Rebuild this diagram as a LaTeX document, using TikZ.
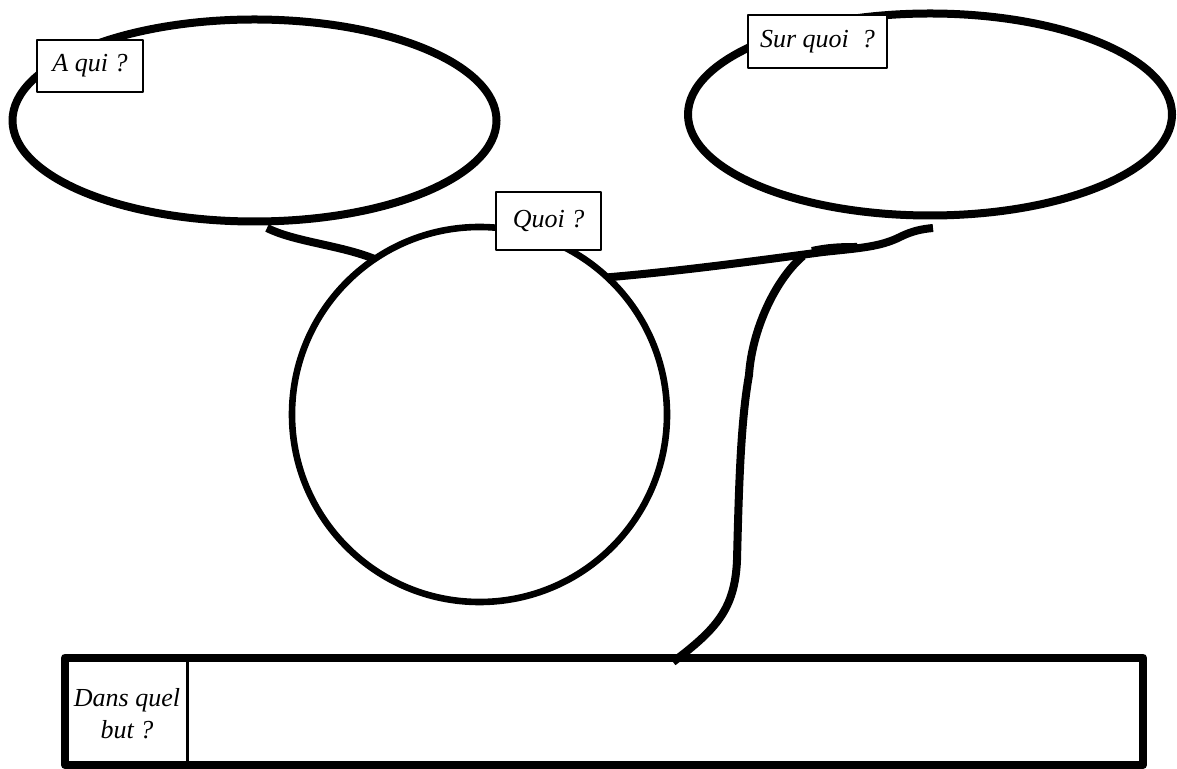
\documentclass[tikz,border=0pt]{standalone}
\usepackage{fontspec}
\setmainfont{Liberation Serif}
\usetikzlibrary{shapes.geometric, calc}

\begin{document}
\begin{tikzpicture}[x=0.5pt, y=-0.5pt, line join=round]
    \tikzset{
        bulle/.style={ellipse, draw, line width=4pt, minimum width=242pt, minimum height=101pt, inner sep=0pt, outer sep=0pt},
        rond/.style={circle, draw, line width=3.3pt, minimum size=187.5pt, inner sep=0pt, outer sep=0pt},
        etiquette/.style={draw, fill=white, line width=0.9pt, inner sep=0pt, font=\itshape\fontsize{13}{16}\selectfont},
        lien/.style={line width=4pt, line cap=butt},
    }
    \useasboundingbox (0,0) rectangle (1177,769);
    % Bulles et cercle
    \node[bulle] (aqui) at (254.5,120.5) {};
    \node[bulle] (surquoi) at (930,114.5) {};
    \node[rond] (quoi) at (479.5,414.5) {};
    % Cadre du bas
    \node[draw, line width=4pt, minimum width=539pt, minimum height=53.75pt, inner sep=0pt, outer sep=0pt] (but) at (604,711.25) {};
    \draw[line width=1.5pt] ([xshift=61pt]but.north west) -- ([xshift=61pt]but.south west);
    \node[align=center, inner sep=0pt, font=\itshape\fontsize{13}{16}\selectfont] (dansquel) at (127,714) {Dans quel\\but ?};
    % Liens
    \coordinate (boutG) at (267,228);
    \coordinate (boutD) at (933,228);
    \coordinate (fourche) at (803,256);
    \coordinate (boutB) at (673,662);
    \draw[lien] (boutG) .. controls (295,242) and (340,245) .. (quoi.124);
    \draw[lien] (quoi.47) .. controls (680,271) and (740,263) .. (823,252)
        .. controls (860,248) and (880,247) .. (900,237)
        .. controls (912,231) and (922,229) .. (boutD);
    \draw[lien] (812,251) .. controls (830,247) and (845,247) .. (857,247);
    \draw[lien] (fourche) .. controls (775,280) and (752,330) .. (749,375)
        .. controls (741,420) and (739,480) .. (737,560)
        .. controls (735,610) and (715,630) .. (boutB);
    % Etiquettes
    \node[etiquette, minimum width=53pt, minimum height=26pt] (laqui) at (90,66) {A qui ?};
    \node[etiquette, minimum width=69.5pt, minimum height=26.5pt] (lsurquoi) at (817.5,41.5) {Sur quoi\ \ ?};
    \node[etiquette, minimum width=52.5pt, minimum height=29pt] (lquoi) at (548.5,221) {Quoi ?};
\end{tikzpicture}
\end{document}
